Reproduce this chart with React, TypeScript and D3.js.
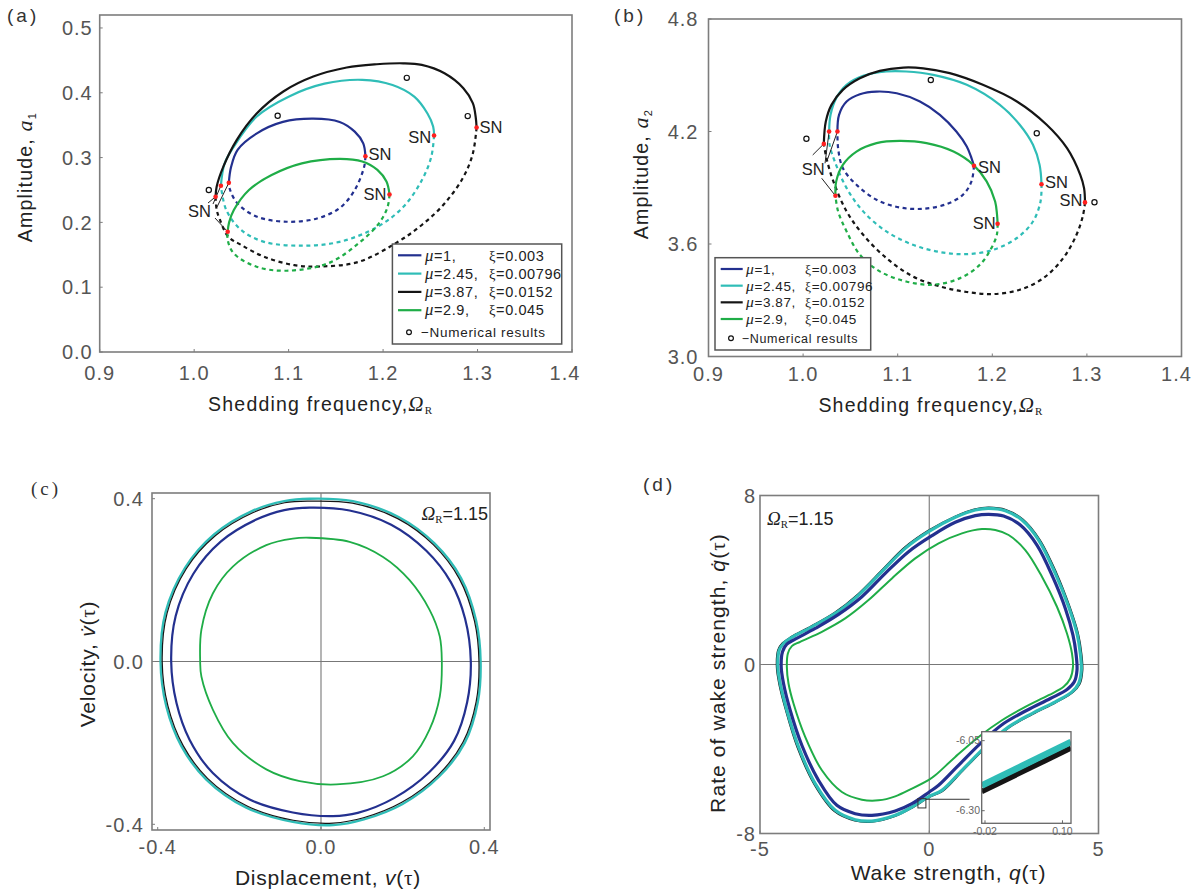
import React from 'react';
import * as d3 from 'd3';

type Pt = [number, number];
type Scale = d3.ScaleLinear<number, number>;

// ---------- (a) amplitude a1 vs shedding frequency ----------
const aMu1Stable: Pt[] = [[1.0367, 0.261], [1.039, 0.285], [1.046, 0.312], [1.066, 0.337], [1.094, 0.355], [1.126, 0.36], [1.154, 0.355], [1.17, 0.34], [1.179, 0.322], [1.1813, 0.302]];
const aMu1Unstable: Pt[] = [[1.1813, 0.302], [1.18, 0.286], [1.17, 0.25], [1.154, 0.222], [1.13, 0.206], [1.098, 0.201], [1.066, 0.209], [1.046, 0.229], [1.038, 0.25], [1.0367, 0.261]];
const aMu245Stable: Pt[] = [[1.0283, 0.2566], [1.032, 0.29], [1.042, 0.317], [1.066, 0.363], [1.1, 0.394], [1.138, 0.414], [1.178, 0.42], [1.21, 0.412], [1.233, 0.394], [1.247, 0.368], [1.253, 0.348], [1.254, 0.334]];
const aMu245Unstable: Pt[] = [[1.254, 0.334], [1.251, 0.301], [1.241, 0.265], [1.2215, 0.224], [1.194, 0.193], [1.154, 0.17], [1.114, 0.164], [1.074, 0.17], [1.05, 0.188], [1.034, 0.219], [1.0283, 0.2566]];
const aMu387Stable: Pt[] = [[1.0227, 0.2396], [1.0238, 0.255], [1.0309, 0.286], [1.045, 0.327], [1.0662, 0.368], [1.0944, 0.402], [1.1261, 0.425], [1.1615, 0.439], [1.1932, 0.444], [1.2214, 0.4455], [1.241, 0.443], [1.265, 0.43], [1.285, 0.407], [1.295, 0.384], [1.298, 0.363], [1.299, 0.3465]];
const aMu387Unstable: Pt[] = [[1.299, 0.3465], [1.295, 0.306], [1.285, 0.27], [1.265, 0.229], [1.241, 0.196], [1.2135, 0.168], [1.174, 0.139], [1.134, 0.132], [1.106, 0.134], [1.074, 0.147], [1.05, 0.165], [1.036, 0.178], [1.0274, 0.2037], [1.0239, 0.219], [1.0227, 0.2396]];
const aMu29Stable: Pt[] = [[1.0355, 0.1856], [1.037, 0.2], [1.042, 0.219], [1.058, 0.25], [1.082, 0.273], [1.114, 0.291], [1.154, 0.298], [1.178, 0.294], [1.194, 0.281], [1.2036, 0.263], [1.2068, 0.243]];
const aMu29Unstable: Pt[] = [[1.2068, 0.243], [1.2048, 0.224], [1.1956, 0.1985], [1.174, 0.1676], [1.142, 0.137], [1.098, 0.1254], [1.066, 0.1316], [1.042, 0.152], [1.0355, 0.173], [1.0355, 0.1856]];
const aNumerical: Pt[] = [[1.0155, 0.25], [1.0884, 0.3645], [1.2251, 0.423], [1.2896, 0.364]];

// ---------- (b) amplitude a2 vs shedding frequency ----------
const bMu1Stable: Pt[] = [[1.0363, 4.2], [1.038, 4.289], [1.046, 4.36], [1.06, 4.399], [1.0776, 4.413], [1.099, 4.404], [1.1235, 4.36], [1.1446, 4.289], [1.162, 4.2], [1.173, 4.12], [1.178, 4.058], [1.1806, 4.017]];
const bMu1Unstable: Pt[] = [[1.1806, 4.017], [1.178, 3.934], [1.169, 3.863], [1.1517, 3.813], [1.127, 3.788], [1.102, 3.795], [1.0776, 3.836], [1.0564, 3.916], [1.042, 4.005], [1.037, 4.111], [1.0363, 4.2]];
const bMu245Stable: Pt[] = [[1.0275, 4.2], [1.029, 4.289], [1.035, 4.378], [1.046, 4.449], [1.0635, 4.497], [1.088, 4.52], [1.109, 4.52], [1.1376, 4.502], [1.173, 4.449], [1.208, 4.342], [1.229, 4.236], [1.243, 4.129], [1.25, 4.022], [1.252, 3.919]];
const bMu245Unstable: Pt[] = [[1.252, 3.919], [1.251, 3.827], [1.243, 3.72], [1.226, 3.632], [1.201, 3.569], [1.173, 3.546], [1.1446, 3.557], [1.116, 3.596], [1.088, 3.667], [1.0635, 3.774], [1.046, 3.898], [1.0335, 4.04], [1.028, 4.129], [1.0275, 4.2]];
const bMu387Stable: Pt[] = [[1.0219, 4.134], [1.024, 4.253], [1.03, 4.342], [1.042, 4.422], [1.06, 4.484], [1.081, 4.523], [1.106, 4.541], [1.127, 4.537], [1.155, 4.511], [1.19, 4.449], [1.226, 4.36], [1.2575, 4.236], [1.279, 4.111], [1.293, 3.969], [1.297, 3.898], [1.298, 3.822]];
const bMu387Unstable: Pt[] = [[1.298, 3.822], [1.296, 3.756], [1.289, 3.649], [1.275, 3.525], [1.254, 3.418], [1.229, 3.356], [1.201, 3.333], [1.173, 3.344], [1.1446, 3.374], [1.116, 3.427], [1.088, 3.525], [1.0635, 3.649], [1.046, 3.774], [1.032, 3.934], [1.0247, 4.058], [1.0219, 4.134]];
const bMu29Stable: Pt[] = [[1.0342, 3.857], [1.035, 3.934], [1.042, 4.022], [1.0564, 4.093], [1.0776, 4.138], [1.102, 4.15], [1.1305, 4.138], [1.159, 4.093], [1.18, 4.022], [1.194, 3.934], [1.203, 3.827], [1.205, 3.756], [1.2056, 3.708]];
const bMu29Unstable: Pt[] = [[1.2056, 3.708], [1.2048, 3.649], [1.199, 3.578], [1.187, 3.49], [1.166, 3.418], [1.1376, 3.383], [1.109, 3.4], [1.081, 3.454], [1.06, 3.543], [1.046, 3.667], [1.037, 3.774], [1.0342, 3.857]];
const bNumerical: Pt[] = [[1.0035, 4.161], [1.135, 4.475], [1.247, 4.191], [1.308, 3.823]];

// ---------- (c) phase portrait of the structure, Omega_R = 1.15 ----------
const cMu1: Pt[] = [[-0.028, 0.378], [0.07, 0.371], [0.172, 0.336], [0.258, 0.272], [0.318, 0.195], [0.353, 0.105], [0.367, 0], [0.358, -0.1], [0.326, -0.195], [0.265, -0.272], [0.18, -0.335], [0.09, -0.372], [0.029, -0.38], [-0.069, -0.371], [-0.175, -0.339], [-0.265, -0.274], [-0.322, -0.192], [-0.354, -0.102], [-0.367, 0], [-0.356, 0.112], [-0.313, 0.215], [-0.245, 0.295], [-0.16, 0.348], [-0.09, 0.372]];
const cMu245: Pt[] = [[-0.028, 0.4], [0.078, 0.394], [0.19, 0.355], [0.278, 0.29], [0.343, 0.205], [0.38, 0.1], [0.391, 0], [0.384, -0.1], [0.352, -0.2], [0.29, -0.282], [0.2, -0.35], [0.105, -0.388], [0.03, -0.402], [-0.069, -0.394], [-0.183, -0.359], [-0.281, -0.29], [-0.342, -0.208], [-0.379, -0.11], [-0.393, 0], [-0.381, 0.12], [-0.333, 0.23], [-0.262, 0.312], [-0.168, 0.37], [-0.09, 0.394]];
const cMu387: Pt[] = [[-0.028, 0.394], [0.077, 0.389], [0.188, 0.351], [0.275, 0.287], [0.339, 0.203], [0.376, 0.099], [0.387, 0], [0.38, -0.099], [0.348, -0.198], [0.287, -0.279], [0.198, -0.346], [0.104, -0.384], [0.03, -0.397], [-0.068, -0.39], [-0.181, -0.355], [-0.278, -0.287], [-0.338, -0.206], [-0.375, -0.109], [-0.389, 0], [-0.377, 0.119], [-0.33, 0.228], [-0.259, 0.309], [-0.166, 0.366], [-0.089, 0.39]];
const cMu29: Pt[] = [[-0.028, 0.304], [0.07, 0.294], [0.152, 0.257], [0.217, 0.2], [0.266, 0.127], [0.291, 0.061], [0.296, 0], [0.291, -0.086], [0.266, -0.167], [0.225, -0.233], [0.152, -0.282], [0.038, -0.302], [-0.052, -0.294], [-0.134, -0.265], [-0.216, -0.2], [-0.265, -0.118], [-0.293, -0.037], [-0.296, 0], [-0.293, 0.078], [-0.265, 0.167], [-0.216, 0.233], [-0.134, 0.286], [-0.069, 0.302]];

// ---------- (d) phase portrait of the wake, Omega_R = 1.15 ----------
const dMu1: Pt[] = [[-4.374, -0.11], [-4.335, 0.6], [-4.207, 0.964], [-3.961, 1.2], [-3.37, 1.706], [-2.68, 2.37], [-1.99, 3.207], [-1.3, 4.313], [-0.611, 5.34], [0.079, 6.098], [0.768, 6.73], [1.36, 7.046], [1.754, 7.109], [2.197, 7.03], [2.69, 6.604], [3.182, 5.656], [3.655, 4.123], [4.02, 2.654], [4.246, 1.39], [4.335, 0.521], [4.365, -0.269], [4.286, -0.821], [4.07, -1.185], [3.576, -1.611], [2.887, -2.164], [2.197, -2.796], [1.507, -3.744], [0.818, -4.85], [0.276, -5.719], [0, -6.035], [-0.512, -6.588], [-1.005, -6.935], [-1.695, -7.14], [-2.187, -7.062], [-2.729, -6.667], [-3.271, -5.482], [-3.764, -3.823], [-4.108, -2.164], [-4.305, -0.9]];
const dMu245: Pt[] = [[-4.473, -0.11], [-4.433, 0.68], [-4.305, 0.995], [-4.06, 1.28], [-3.468, 1.785], [-2.778, 2.417], [-2.089, 3.286], [-1.399, 4.392], [-0.709, 5.498], [-0.02, 6.288], [0.768, 6.967], [1.36, 7.314], [1.754, 7.393], [2.246, 7.283], [2.739, 6.84], [3.232, 5.893], [3.724, 4.313], [4.118, 2.733], [4.365, 1.469], [4.463, 0.521], [4.493, -0.269], [4.414, -0.9], [4.217, -1.295], [3.724, -1.769], [3.034, -2.322], [2.345, -2.954], [1.655, -3.902], [0.966, -5.008], [0.374, -5.956], [0, -6.24], [-0.512, -6.746], [-1.005, -7.14], [-1.695, -7.41], [-2.187, -7.346], [-2.778, -6.904], [-3.369, -5.64], [-3.862, -3.902], [-4.207, -2.164], [-4.404, -0.9]];
const dMu387: Pt[] = [[-4.51, -0.11], [-4.47, 0.69], [-4.34, 1.01], [-4.09, 1.3], [-3.49, 1.81], [-2.8, 2.45], [-2.11, 3.32], [-1.42, 4.43], [-0.73, 5.54], [-0.04, 6.33], [0.76, 7.01], [1.36, 7.36], [1.76, 7.44], [2.26, 7.33], [2.77, 6.87], [3.26, 5.92], [3.76, 4.33], [4.15, 2.74], [4.4, 1.47], [4.5, 0.52], [4.53, -0.27], [4.45, -0.92], [4.24, -1.32], [3.74, -1.8], [3.05, -2.36], [2.36, -2.99], [1.67, -3.94], [0.98, -5.05], [0.39, -6.0], [0.01, -6.28], [-0.51, -6.79], [-1.01, -7.18], [-1.7, -7.45], [-2.2, -7.39], [-2.81, -6.94], [-3.4, -5.67], [-3.9, -3.92], [-4.24, -2.17], [-4.44, -0.9]];
const dMu29: Pt[] = [[-4.207, -0.11], [-4.177, 0.521], [-4.059, 0.869], [-3.813, 1.074], [-3.172, 1.548], [-2.483, 2.18], [-1.793, 3.049], [-1.103, 4.076], [-0.414, 5.024], [0.276, 5.735], [0.966, 6.209], [1.557, 6.414], [1.951, 6.367], [2.345, 6.13], [2.837, 5.419], [3.33, 4.155], [3.773, 2.733], [4.069, 1.469], [4.217, 0.521], [4.246, -0.11], [4.167, -0.664], [3.97, -1.058], [3.527, -1.453], [2.837, -2.006], [2.148, -2.638], [1.458, -3.428], [0.768, -4.376], [0.177, -5.245], [0, -5.45], [-0.512, -5.877], [-1.005, -6.24], [-1.498, -6.43], [-1.99, -6.398], [-2.581, -6.035], [-3.172, -5.008], [-3.665, -3.428], [-4.01, -1.848], [-4.158, -0.9]];
const insetMu245: Pt[] = [[-0.0251, -6.21], [0.1132, -6.0546]];
const insetMu387: Pt[] = [[-0.0251, -6.2314], [0.1132, -6.0764]];
const zoomQ = [-0.335, -0.099];
const zoomQDot = [-6.79, -6.35];
const zoomLeaderQ = [-0.099, 1.19];
const zoomLeaderQDot = -6.38;

// ---------- shared labels / ticks ----------
const muValues = ['1', '2.45', '3.87', '2.9'];
const xiValues = ['0.003', '0.00796', '0.0152', '0.045'];
const colors = ['#23308f', '#2fbdb7', '#151515', '#1fad47'];
const freqTicks = [0.9, 1.0, 1.1, 1.2, 1.3, 1.4];
const a1Ticks = [0.0, 0.1, 0.2, 0.3, 0.4, 0.5];
const a2Ticks = [3.0, 3.6, 4.2, 4.8];
const vTicks = [-0.4, 0.0, 0.4];
const qTicks = [-5, 0, 5];
const qDotTicks = [-8, 0, 8];
const insetQTicks = [-0.02, 0.1];
const insetQDotTicks = [-6.05, -6.3];
const omegaValue = '1.15';

const sans = '"Liberation Sans", Arial, Helvetica, sans-serif';
const serif = '"Liberation Serif", "Times New Roman", serif';

// scales (ranges are the plot frames)
const xA = d3.scaleLinear().domain([0.9, 1.4]).range([99.7, 572]);
const yA = d3.scaleLinear().domain([0, 0.52]).range([352, 15]);
const xB = d3.scaleLinear().domain([0.9, 1.4]).range([708.5, 1181.5]);
const yB = d3.scaleLinear().domain([3.0, 4.8]).range([356.5, 19]);
const xC = d3.scaleLinear().domain([-0.414, 0.414]).range([152, 490]);
const yC = d3.scaleLinear().domain([-0.414, 0.414]).range([830, 493]);
const xD = d3.scaleLinear().domain([-5, 5]).range([760, 1098.5]);
const yD = d3.scaleLinear().domain([-8, 8]).range([833.5, 495.5]);
const xI = d3.scaleLinear().domain([-0.0251, 0.1132]).range([981.7, 1071]);
const yI = d3.scaleLinear().domain([-6.345, -6.018]).range([823.3, 731.7]);

const pathOf = (xs: Scale, ys: Scale, pts: Pt[], closed = false) =>
  d3.line<Pt>()
    .x(d => xs(d[0]))
    .y(d => ys(d[1]))
    .curve(closed ? d3.curveCatmullRomClosed.alpha(0.5) : d3.curveCatmullRom.alpha(0.5))(pts) || '';

const f1 = (t: number) => t.toFixed(1);
const f0 = (t: number) => String(t);
const f2 = (t: number) => t.toFixed(2);

function Frame({ xs, ys, xTicks, yTicks, fmtX, fmtY, yGap, xLabY, zero = false, lastShift = 0 }: any) {
  const [xa, xb] = xs.range();
  const [ya, yb] = ys.range();
  return (
    <g fontFamily={sans}>
      {zero && <line x1={xs(0)} x2={xs(0)} y1={ya} y2={yb} stroke="#777" strokeWidth={1.1} />}
      {zero && <line x1={xa} x2={xb} y1={ys(0)} y2={ys(0)} stroke="#777" strokeWidth={1.1} />}
      <rect x={xa} y={yb} width={xb - xa} height={ya - yb} fill="none" stroke="#7d7d7d" strokeWidth={1.6} />
      {xTicks.map((t: number) => <line key={'xt' + t} x1={xs(t)} x2={xs(t)} y1={ya} y2={ya - 3} stroke="#7d7d7d" />)}
      {yTicks.map((t: number) => <line key={'yt' + t} x1={xa} x2={xa + 3} y1={ys(t)} y2={ys(t)} stroke="#7d7d7d" />)}
      {xTicks.map((t: number, i: number) => (
        <text key={'xl' + t} x={xs(t) + (i === xTicks.length - 1 ? lastShift : 0)} y={xLabY} textAnchor="middle"
          fontSize={20} fill="#555" letterSpacing={1}>{fmtX(t)}</text>
      ))}
      {yTicks.map((t: number) => (
        <text key={'yl' + t} x={xa - yGap} y={ys(t)} dy="0.36em" textAnchor="end" fontSize={20} fill="#555" letterSpacing={1}>{fmtY(t)}</text>
      ))}
    </g>
  );
}

function Legend({ box, row0, gap, numY, lineX, muX, xiX, circX, numX, fs }: any) {
  return (
    <g fontFamily={sans} fill="#222">
      <rect x={box[0]} y={box[1]} width={box[2] - box[0]} height={box[3] - box[1]} fill="#fff" stroke="#555" strokeWidth={1.5} />
      {muValues.map((mu, i) => {
        const ry = row0 + i * gap;
        return (
          <g key={mu}>
            <line x1={lineX[0]} x2={lineX[1]} y1={ry} y2={ry} stroke={colors[i]} strokeWidth={2.2} />
            <text x={muX} y={ry} dy="0.36em" fontSize={fs} letterSpacing={0.6}>
              <tspan fontFamily={serif} fontStyle="italic" fontSize={fs * 1.15}>μ</tspan>={mu},
            </text>
            <text x={xiX} y={ry} dy="0.36em" fontSize={fs} letterSpacing={0.6}>
              <tspan fontFamily={serif}>ξ</tspan>={xiValues[i]}
            </text>
          </g>
        );
      })}
      <circle cx={circX} cy={numY} r={2.4} fill="none" stroke="#111" strokeWidth={1.2} />
      <text x={numX} y={numY} dy="0.36em" fontSize={fs - 1} letterSpacing={0.7}>−Numerical results</text>
    </g>
  );
}

function Bifurcation({ xs, ys, stable, unstable, numerical, snLayout, cluster }: any) {
  const left = stable.map((s: Pt[]) => s[0]);
  const right = stable.map((s: Pt[]) => s[s.length - 1]);
  const ref = left[2];
  const rx = xs(ref[0]);
  const ry = ys(ref[1]);
  return (
    <g>
      {unstable.map((pts: Pt[], i: number) => (
        <path key={'u' + i} d={pathOf(xs, ys, pts)} fill="none" stroke={colors[i]} strokeWidth={2.2} strokeDasharray="4 3.6" />
      ))}
      {stable.map((pts: Pt[], i: number) => (
        <path key={'s' + i} d={pathOf(xs, ys, pts)} fill="none" stroke={colors[i]} strokeWidth={2.2} />
      ))}
      {numerical.map((p: Pt, i: number) => (
        <circle key={'n' + i} cx={xs(p[0])} cy={ys(p[1])} r={2.6} fill="none" stroke="#111" strokeWidth={1.2} />
      ))}
      {cluster.leaders.map((o: number[], i: number) => (
        <line key={'l' + i} x1={rx + o[0]} y1={ry + o[1]} x2={xs(left[i][0])} y2={ys(left[i][1])} stroke="#222" strokeWidth={1} />
      ))}
      {[...left, ...right].map((p: Pt, i: number) => (
        <circle key={'r' + i} cx={xs(p[0])} cy={ys(p[1])} r={2.3} fill="#ff1f1f" />
      ))}
      <g fontFamily={sans} fontSize={16.5} fill="#222">
        {right.map((p: Pt, i: number) => (
          <text key={'sn' + i} x={xs(p[0]) + snLayout[i].dx} y={ys(p[1]) + snLayout[i].dy} textAnchor={snLayout[i].anchor}>SN</text>
        ))}
        <text x={rx + cluster.dx} y={ry + cluster.dy}>SN</text>
      </g>
    </g>
  );
}

function Portrait({ xs, ys, loops, widths, order }: any) {
  return (
    <g fill="none">
      {order.map((i: number) => (
        <path key={i} d={pathOf(xs, ys, loops[i], true)} stroke={colors[i]} strokeWidth={widths[i]} />
      ))}
    </g>
  );
}

const OmegaLabel = ({ x, y, anchor, fs }: any) => (
  <text x={x} y={y} textAnchor={anchor} fontFamily={sans} fontSize={fs} fill="#222">
    <tspan fontFamily={serif} fontStyle="italic" fontSize={fs + 1}>Ω</tspan>
    <tspan fontFamily={serif} fontSize={fs * 0.6} dy={3}>R</tspan>
    <tspan dy={-3}>={omegaValue}</tspan>
  </text>
);

export default function App() {
  const aSN = [
    { dx: 3, dy: 4, anchor: 'start' },
    { dx: -3, dy: 7, anchor: 'end' },
    { dx: 3, dy: 6, anchor: 'start' },
    { dx: -3, dy: 5, anchor: 'end' },
  ];
  const bSN = [
    { dx: 4, dy: 7.3, anchor: 'start' },
    { dx: 3.5, dy: 3.4, anchor: 'start' },
    { dx: -2.5, dy: 4, anchor: 'end' },
    { dx: -2, dy: 5.3, anchor: 'end' },
  ];
  const aCluster = { dx: -27.6, dy: 20.3, leaders: [[1.4, 10.3], [-2.6, 7.3], [-7.6, 6.3], [-0.6, 21.3]] };
  const bCluster = { dx: -22.1, dy: 31.1, leaders: [[2.9, 17.8], [1.2, 19.4], [-11.1, 11.1], [-2.1, 34.4]] };

  const titleProps = { fontFamily: sans, fill: '#222' };

  return (
    <svg width={1192} height={895} style={{ position: 'absolute', left: 0, top: 0, background: '#fff' }}>
      <rect width={1192} height={895} fill="#fff" />

      {/* (a) */}
      <text x={7} y={22} fontFamily={sans} fontSize={19} fill="#333" letterSpacing={3}>(a)</text>
      <Frame xs={xA} ys={yA} xTicks={freqTicks} yTicks={a1Ticks} fmtX={f1} fmtY={f1} yGap={7} xLabY={380} lastShift={-7} />
      <Bifurcation xs={xA} ys={yA}
        stable={[aMu1Stable, aMu245Stable, aMu387Stable, aMu29Stable]}
        unstable={[aMu1Unstable, aMu245Unstable, aMu387Unstable, aMu29Unstable]}
        numerical={aNumerical} snLayout={aSN} cluster={aCluster} />
      <Legend box={[392.4, 244, 561.7, 344]} row0={255.3} gap={18.3} numY={332.3} lineX={[398, 421.4]}
        muX={425} xiX={489} circX={409} numX={421} fs={14.5} />
      <text {...titleProps} transform="translate(24.5,177) rotate(-90)" textAnchor="middle" dy="0.36em" fontSize={19.5} letterSpacing={1.2}>
        Amplitude, <tspan fontFamily={serif} fontStyle="italic" fontSize={22}>a</tspan><tspan fontSize={11} dy={4}>1</tspan>
      </text>
      <text {...titleProps} x={320.7} y={411} textAnchor="middle" fontSize={19.5} letterSpacing={1.2}>
        Shedding frequency,<tspan fontFamily={serif} fontStyle="italic" fontSize={21}>Ω</tspan><tspan fontFamily={serif} fontSize={11} dy={3}>R</tspan>
      </text>

      {/* (b) */}
      <text x={614} y={22} fontFamily={sans} fontSize={19} fill="#333" letterSpacing={3}>(b)</text>
      <Frame xs={xB} ys={yB} xTicks={freqTicks} yTicks={a2Ticks} fmtX={f1} fmtY={f1} yGap={10} xLabY={380.5} lastShift={-5} />
      <Bifurcation xs={xB} ys={yB}
        stable={[bMu1Stable, bMu245Stable, bMu387Stable, bMu29Stable]}
        unstable={[bMu1Unstable, bMu245Unstable, bMu387Unstable, bMu29Unstable]}
        numerical={bNumerical} snLayout={bSN} cluster={bCluster} />
      <Legend box={[715, 257.7, 870.7, 350]} row0={269} gap={16.67} numY={338.3} lineX={[720.7, 742.7]}
        muX={746} xiX={805} circX={731} numX={741.7} fs={13.5} />
      <text {...titleProps} transform="translate(640.5,174) rotate(-90)" textAnchor="middle" dy="0.36em" fontSize={19.5} letterSpacing={1.2}>
        Amplitude, <tspan fontFamily={serif} fontStyle="italic" fontSize={22}>a</tspan><tspan fontSize={11} dy={4}>2</tspan>
      </text>
      <text {...titleProps} x={931} y={412} textAnchor="middle" fontSize={19.5} letterSpacing={1.2}>
        Shedding frequency,<tspan fontFamily={serif} fontStyle="italic" fontSize={21}>Ω</tspan><tspan fontFamily={serif} fontSize={11} dy={3}>R</tspan>
      </text>

      {/* (c) */}
      <text x={31} y={495} fontFamily={serif} fontSize={19} fill="#333" letterSpacing={3}>(c)</text>
      <Frame xs={xC} ys={yC} xTicks={vTicks} yTicks={vTicks} fmtX={f1} fmtY={f1} yGap={8} xLabY={854} zero />
      <Portrait xs={xC} ys={yC} loops={[cMu1, cMu245, cMu387, cMu29]} widths={[2.2, 2.4, 1.2, 1.8]} order={[1, 2, 0, 3]} />
      <OmegaLabel x={488} y={520} anchor="end" fs={18} />
      <text {...titleProps} transform="translate(87.5,664) rotate(-90)" textAnchor="middle" dy="0.36em" fontSize={21} letterSpacing={0.8}>
        Velocity, <tspan fontStyle="italic">v̇</tspan>(<tspan fontFamily={serif}>τ</tspan>)
      </text>
      <text {...titleProps} x={328} y={885} textAnchor="middle" fontSize={21} letterSpacing={0.8}>
        Displacement, <tspan fontStyle="italic">v</tspan>(<tspan fontFamily={serif}>τ</tspan>)
      </text>

      {/* (d) */}
      <text x={643} y={491} fontFamily={sans} fontSize={19} fill="#333" letterSpacing={3}>(d)</text>
      <Frame xs={xD} ys={yD} xTicks={qTicks} yTicks={qDotTicks} fmtX={f0} fmtY={f0} yGap={4} xLabY={855.5} zero />
      <Portrait xs={xD} ys={yD} loops={[dMu1, dMu245, dMu387, dMu29]} widths={[3.2, 3.2, 1.6, 2]} order={[2, 1, 0, 3]} />
      <rect x={xD(zoomQ[0])} y={yD(zoomQDot[1])} width={xD(zoomQ[1]) - xD(zoomQ[0])} height={yD(zoomQDot[0]) - yD(zoomQDot[1])}
        fill="none" stroke="#333" strokeWidth={1} />
      <line x1={xD(zoomLeaderQ[0])} x2={xD(zoomLeaderQ[1])} y1={yD(zoomLeaderQDot)} y2={yD(zoomLeaderQDot)} stroke="#333" strokeWidth={1} />
      <g>
        <defs>
          <clipPath id="insetClip">
            <rect x={981.7} y={731.7} width={89.3} height={91.6} />
          </clipPath>
        </defs>
        <rect x={xI.range()[0]} y={yI.range()[1]} width={xI.range()[1] - xI.range()[0]} height={yI.range()[0] - yI.range()[1]} fill="#fff" />
        <g clipPath="url(#insetClip)" fill="none">
          <path d={pathOf(xI, yI, insetMu387)} stroke={colors[2]} strokeWidth={5.5} />
          <path d={pathOf(xI, yI, insetMu245)} stroke={colors[1]} strokeWidth={6.5} />
        </g>
        <rect x={xI.range()[0]} y={yI.range()[1]} width={xI.range()[1] - xI.range()[0]} height={yI.range()[0] - yI.range()[1]} fill="none" stroke="#666" strokeWidth={1.3} />
        {insetQTicks.map(t => (
          <g key={'iq' + t}>
            <line x1={xI(t)} x2={xI(t)} y1={yI.range()[0]} y2={yI.range()[0] - 3} stroke="#666" />
            <text x={xI(t)} y={834.5} textAnchor="middle" fontFamily={sans} fontSize={10.5} fill="#666">{f2(t)}</text>
          </g>
        ))}
        {insetQDotTicks.map(t => (
          <g key={'iqd' + t}>
            <line x1={xI.range()[0]} x2={xI.range()[0] + 3} y1={yI(t)} y2={yI(t)} stroke="#666" />
            <text x={980} y={yI(t)} dy="0.36em" textAnchor="end" fontFamily={sans} fontSize={10.5} fill="#666">{f2(t)}</text>
          </g>
        ))}
      </g>
      <OmegaLabel x={767} y={525} anchor="start" fs={18} />
      <text {...titleProps} transform="translate(717,673) rotate(-90)" textAnchor="middle" dy="0.36em" fontSize={21} letterSpacing={1.1}>
        Rate of wake strength, <tspan fontStyle="italic">q̇</tspan>(<tspan fontFamily={serif}>τ</tspan>)
      </text>
      <text {...titleProps} x={948.6} y={880} textAnchor="middle" fontSize={21} letterSpacing={0.8}>
        Wake strength, <tspan fontStyle="italic">q</tspan>(<tspan fontFamily={serif}>τ</tspan>)
      </text>
    </svg>
  );
}
